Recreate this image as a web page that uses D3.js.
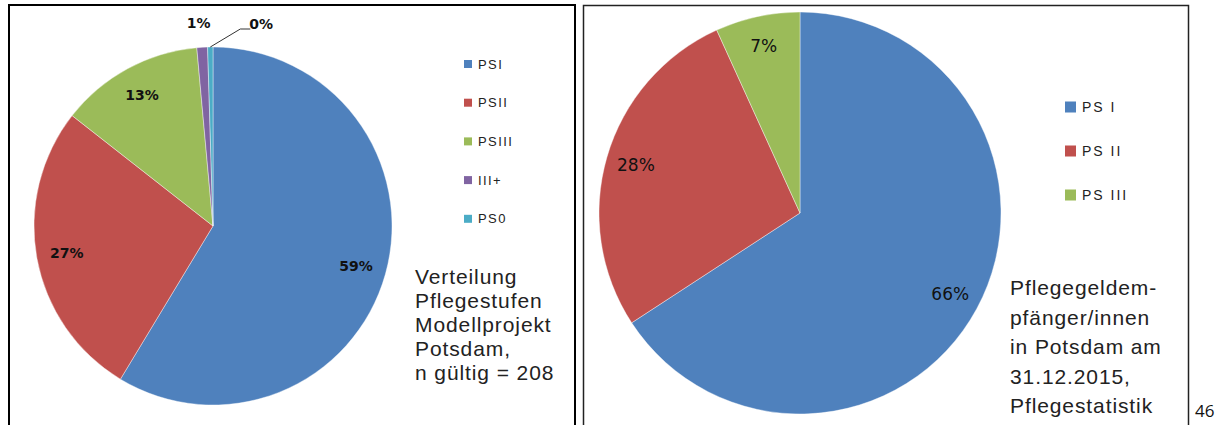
<!DOCTYPE html>
<html>
<head>
<meta charset="utf-8">
<script src="https://d3js.org/d3.v7.min.js"></script>
<style>
  body { margin: 0; background: #fff; }
  text { font-family: "Liberation Sans", Arial, sans-serif; }
</style>
</head>
<body>
<div id="chart"></div>
<script>
// data
var leftCategories = ["PSI", "PSII", "PSIII", "III+", "PS0"];
var leftValues = [122, 56, 27, 2, 1];          // counts, n = 208
var leftLabels = ["59%", "27%", "13%", "1%", "0%"];
var leftNote = ["Verteilung", "Pflegestufen", "Modellprojekt", "Potsdam,", "n gültig = 208"];

var rightCategories = ["PS I", "PS II", "PS III"];
var rightValues = [65.8, 27.4, 6.8];
var rightLabels = ["66%", "28%", "7%"];
var rightNote = ["Pflegegeldem-", "pfänger/innen", "in Potsdam am", "31.12.2015,", "Pflegestatistik"];

var pageNumber = "46";

var colors = ["#4F81BD", "#C0504D", "#9BBB59", "#8064A2", "#4BACC6"];

var width = 1218,
    height = 425;

var svg = d3.select("#chart")
    .append("svg")
    .attr("width", width)
    .attr("height", height);

svg.append("rect").attr("width", width).attr("height", height).attr("fill", "#fff");

// frames
svg.append("rect")
    .attr("x", 9).attr("y", 5).attr("width", 566).attr("height", 440)
    .attr("fill", "none").attr("stroke", "#000").attr("stroke-width", 2);
svg.append("rect")
    .attr("x", 583.5).attr("y", 5.5).attr("width", 605).attr("height", 440)
    .attr("fill", "none").attr("stroke", "#222").attr("stroke-width", 1.5);

var pie = d3.pie().sort(null).value(function(d) { return d; });

function drawPie(cfg) {
    var g = svg.append("g").attr("transform", "translate(" + cfg.cx + "," + cfg.cy + ")");
    var arcs = pie(cfg.values);
    var arc = d3.arc().innerRadius(0).outerRadius(cfg.r);
    var labelArc = d3.arc().innerRadius(cfg.r * cfg.lr).outerRadius(cfg.r * cfg.lr);

    g.selectAll("path")
        .data(arcs)
        .enter().append("path")
        .attr("d", arc)
        .attr("fill", function(d, i) { return colors[i]; })
        .attr("stroke", "#fff")
        .attr("stroke-width", 0.4);

    g.selectAll("text.lbl")
        .data(arcs.filter(function(d, i) { return cfg.inside(i); }))
        .enter().append("text")
        .attr("class", "lbl")
        .attr("transform", function(d) { return "translate(" + labelArc.centroid(d) + ")"; })
        .attr("text-anchor", "middle")
        .attr("dy", "0.35em")
        .style("font-family", "'DejaVu Sans', Verdana, sans-serif")
        .style("font-size", cfg.labelSize + "px")
        .style("font-weight", cfg.labelWeight)
        .attr("fill", "#111")
        .text(function(d) { return cfg.labels[d.index]; });
    return {g: g, arcs: arcs, arc: arc};
}

function drawLegend(cfg) {
    var lg = svg.append("g").attr("transform", "translate(" + cfg.x + "," + cfg.y + ")");
    var item = lg.selectAll("g")
        .data(cfg.categories)
        .enter().append("g")
        .attr("transform", function(d, i) { return "translate(0," + (i * cfg.step) + ")"; });
    item.append("rect")
        .attr("x", 0).attr("y", -cfg.box / 2)
        .attr("width", cfg.box).attr("height", cfg.box)
        .attr("fill", function(d, i) { return colors[i]; });
    item.append("text")
        .attr("x", cfg.box + 6)
        .attr("dy", "0.36em")
        .style("font-size", cfg.size + "px")
        .style("letter-spacing", cfg.spacing + "px")
        .attr("fill", "#222")
        .text(function(d) { return d; });
}

function drawNote(lines, x, y, lh) {
    svg.append("g").selectAll("text")
        .data(lines)
        .enter().append("text")
        .attr("x", x)
        .attr("y", function(d, i) { return y + i * lh; })
        .style("font-size", "21px")
        .style("letter-spacing", "0.9px")
        .attr("fill", "#222")
        .text(function(d) { return d; });
}

// left chart
var left = drawPie({
    cx: 213, cy: 226, r: 179, lr: 0.83,
    values: leftValues, labels: leftLabels,
    labelSize: 14, labelWeight: "bold",
    inside: function(i) { return i < 3; }
});

// small slices: labels outside, the last one with a leader line
var small = left.arcs.slice(3);
var mid3 = (small[0].startAngle + small[0].endAngle) / 2;
var mid4 = (small[1].startAngle + small[1].endAngle) / 2;
var r0 = 179;
left.g.append("text")
    .attr("x", Math.sin(mid3) * (r0 + 24) - 2)
    .attr("y", -Math.cos(mid3) * (r0 + 24))
    .attr("text-anchor", "middle")
    .attr("dy", "0.35em")
    .style("font-family", "'DejaVu Sans', Verdana, sans-serif")
    .style("font-size", "14px").style("font-weight", "bold")
    .attr("fill", "#111")
    .text(leftLabels[3]);

var p0 = [Math.sin(mid4) * r0, -Math.cos(mid4) * r0];
var p1 = [p0[0] + 30, -r0 - 18];
var p2 = [p1[0] + 10, p1[1]];
left.g.append("polyline")
    .attr("points", [p0, p1, p2].map(function(p) { return p.join(","); }).join(" "))
    .attr("fill", "none").attr("stroke", "#333").attr("stroke-width", 1);
left.g.append("text")
    .attr("x", p2[0] - 1)
    .attr("y", p2[1] - 5)
    .attr("dy", "0.35em")
    .style("font-family", "'DejaVu Sans', Verdana, sans-serif")
    .style("font-size", "14px").style("font-weight", "bold")
    .attr("fill", "#111")
    .text(leftLabels[4]);

drawLegend({x: 464, y: 64, step: 38.7, box: 8, size: 13, spacing: 1.4, categories: leftCategories});
drawNote(leftNote, 415, 284, 24);

// right chart
drawPie({
    cx: 800, cy: 213, r: 201, lr: 0.85,
    values: rightValues, labels: rightLabels,
    labelSize: 17, labelWeight: "normal",
    inside: function() { return true; }
});

drawLegend({x: 1065, y: 107, step: 44, box: 11, size: 14, spacing: 2, categories: rightCategories});
drawNote(rightNote, 1010, 295, 29.5);

svg.append("text")
    .attr("x", 1195).attr("y", 417)
    .style("font-family", "'Open Sans', sans-serif")
    .style("font-size", "17px")
    .attr("fill", "#111")
    .text(pageNumber);
</script>
</body>
</html>
